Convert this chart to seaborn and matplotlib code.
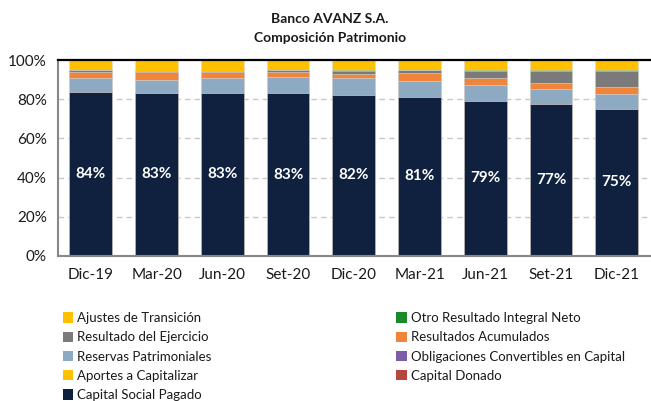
import pandas as pd
import numpy as np
import matplotlib
matplotlib.use("Agg")
import matplotlib.pyplot as plt
import seaborn as sns

# periods and composition (% of total equity)
periods = ["Dic-19", "Mar-20", "Jun-20", "Set-20", "Dic-20", "Mar-21", "Jun-21", "Set-21", "Dic-21"]
capital_social = [83.8, 83.4, 83.4, 83.1, 82.2, 81.2, 79.1, 77.4, 75.0]
capital_donado = [0, 0, 0, 0, 0, 0, 0, 0, 0]
aportes = [0, 0, 0, 0, 0, 0, 0, 0, 0]
obligaciones = [0, 0, 0, 0, 0, 0, 0, 0, 0]
reservas = [7.2, 6.6, 7.7, 8.2, 8.5, 8.4, 8.4, 7.7, 7.6]
res_acumulados = [3.1, 3.8, 2.6, 2.6, 2.2, 3.9, 3.4, 3.4, 3.6]
res_ejercicio = [0.7, 0.6, 0.9, 0.9, 1.5, 1.4, 3.8, 6.2, 8.5]
ori = [0.1, 0.1, 0.1, 0.1, 0.4, 0.1, 0.5, 0.5, 0.5]
ajustes = [5.1, 5.5, 5.3, 5.1, 5.2, 5.0, 4.8, 4.8, 4.8]

# bottom -> top
layers = [
    ("Capital Social Pagado", capital_social, "#0f213f"),
    ("Capital Donado", capital_donado, "#b5473f"),
    ("Aportes a Capitalizar", aportes, "#ffc000"),
    ("Obligaciones Convertibles en Capital", obligaciones, "#7b5ea7"),
    ("Reservas Patrimoniales", reservas, "#8eaac3"),
    ("Resultados Acumulados", res_acumulados, "#f0843a"),
    ("Resultado del Ejercicio", res_ejercicio, "#7a7a7a"),
    ("Otro Resultado Integral Neto", ori, "#1a8a28"),
    ("Ajustes de Transición", ajustes, "#ffc000"),
]

df = pd.DataFrame({"Periodo": periods})
for name, vals, _ in layers:
    df[name] = vals
cum = df[[l[0] for l in layers]].cumsum(axis=1)

sns.set_style("white")
plt.rcParams["font.family"] = ["Lato", "DejaVu Sans"]
plt.rcParams["text.color"] = "#1a1a1a"

fig = plt.figure(figsize=(6.51, 4.01), dpi=100)
ax = fig.add_axes([0.089, 0.362, 0.909, 0.488])

# draw cumulative bars from top layer down so each one covers the next
for name, _, color in reversed(layers):
    sns.barplot(x=df["Periodo"], y=cum[name], color=color, width=0.65,
                label=name, ax=ax, edgecolor="#dddddd", linewidth=0.4,
                saturation=1)
if ax.get_legend() is not None:
    ax.get_legend().remove()

for i, v in enumerate(capital_social):
    ax.text(i, v / 2, f"{round(v)}%", ha="center", va="center",
            color="white", fontsize=11, fontweight="bold")

ax.set_ylim(0, 100)
ax.set_xlim(-0.5, len(periods) - 0.5)
ax.set_yticks([0, 20, 40, 60, 80, 100])
ax.set_yticklabels([f"{t}%" for t in [0, 20, 40, 60, 80, 100]], fontsize=11)
ax.set_xticks(range(len(periods)))
ax.set_xticklabels(periods, fontsize=11)
ax.set_xlabel("")
ax.set_ylabel("")
ax.set_xticks(np.arange(-0.5, len(periods)), minor=True)
ax.tick_params(axis="x", which="major", length=0, pad=9, labelcolor="#1a1a1a")
ax.tick_params(axis="x", which="minor", length=4, color="#888888", direction="out")
ax.tick_params(axis="y", length=4, color="#888888", direction="out", pad=4,
               labelcolor="#1a1a1a")

for y in [20, 40, 60, 80]:
    ax.axhline(y, color="#c8c8c8", linestyle=(0, (4, 3)), linewidth=1, zorder=0)
ax.set_axisbelow(True)

ax.spines["right"].set_visible(False)
ax.spines["top"].set_color("black")
ax.spines["top"].set_linewidth(1.6)
ax.spines["left"].set_color("#888888")
ax.spines["left"].set_linewidth(1.5)
ax.spines["bottom"].set_color("#888888")
ax.spines["bottom"].set_linewidth(1.5)

fig.text(0.507, 0.953, "Banco AVANZ S.A.", ha="center", va="center",
         fontsize=10, fontweight="bold")
fig.text(0.507, 0.905, "Composición Patrimonio", ha="center", va="center",
         fontsize=10, fontweight="bold")

handles, labels = ax.get_legend_handles_labels()
lookup = dict(zip(labels, handles))
order = ["Ajustes de Transición", "Otro Resultado Integral Neto",
         "Resultado del Ejercicio", "Resultados Acumulados",
         "Reservas Patrimoniales", "Obligaciones Convertibles en Capital",
         "Aportes a Capitalizar", "Capital Donado", "Capital Social Pagado"]
# legend fills row by row in two columns
left_col = order[0::2]
right_col = order[1::2]
ncol_order = left_col + right_col
leg = fig.legend([lookup[o] for o in ncol_order], ncol_order, ncol=2,
                 loc="upper left", bbox_to_anchor=(0.088, 0.235),
                 frameon=False, fontsize=9.5, handlelength=0.8, handleheight=0.8,
                 handletextpad=0.3, columnspacing=14.0, labelspacing=0.55,
                 borderaxespad=0)
for h in leg.legend_handles:
    h.set_edgecolor("none")

fig.savefig("out.png", dpi=100)
